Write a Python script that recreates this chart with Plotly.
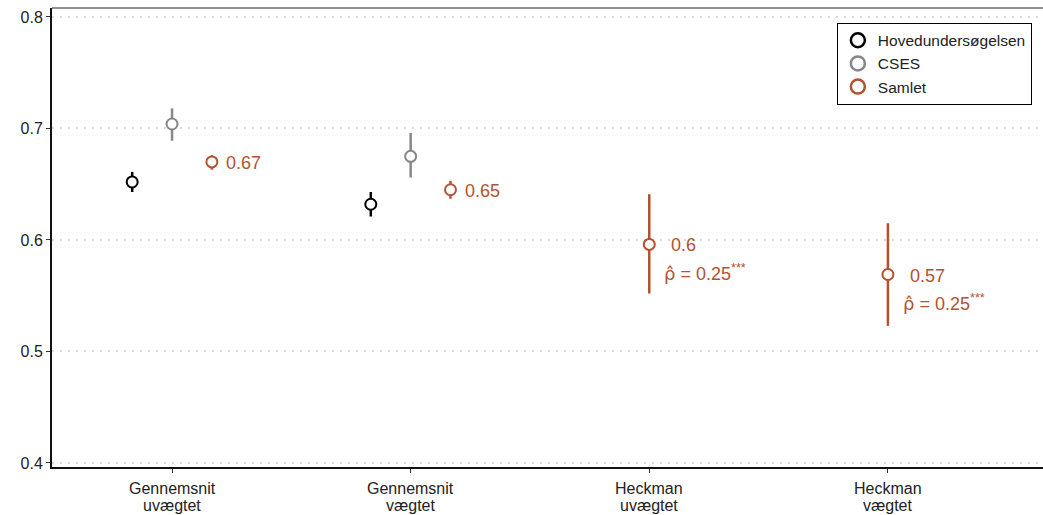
import plotly.graph_objects as go

categories = ["Gennemsnit<br>uvægtet", "Gennemsnit<br>vægtet", "Heckman<br>uvægtet", "Heckman<br>vægtet"]
series_names = ["Hovedundersøgelsen", "CSES", "Samlet"]

hoved_est = [0.652, 0.632, None, None]
hoved_lo = [0.643, 0.621, None, None]
hoved_hi = [0.661, 0.643, None, None]

cses_est = [0.704, 0.675, None, None]
cses_lo = [0.689, 0.656, None, None]
cses_hi = [0.718, 0.696, None, None]

samlet_est = [0.670, 0.645, 0.596, 0.569]
samlet_lo = [0.663, 0.637, 0.552, 0.523]
samlet_hi = [0.676, 0.653, 0.641, 0.615]

value_labels = ["0.67", "0.65", "0.6", "0.57"]
rho_labels = ["", "", "0.25", "0.25"]
rho_stars = ["", "", "***", "***"]

FONT = "Liberation Sans, Arial, Helvetica"
colors = {"Hovedundersøgelsen": "#000000", "CSES": "#878787", "Samlet": "#b3522f"}
data = {
    "Hovedundersøgelsen": (hoved_est, hoved_lo, hoved_hi),
    "CSES": (cses_est, cses_lo, cses_hi),
    "Samlet": (samlet_est, samlet_lo, samlet_hi),
}

dodge = 0.167
positions = {}
for i in range(len(categories)):
    present = [s for s in series_names if data[s][0][i] is not None]
    n = len(present)
    for k, s in enumerate(present):
        positions[(s, i)] = (i + 1) + (k - (n - 1) / 2) * dodge

fig = go.Figure()
for s in series_names:
    est, lo, hi = data[s]
    xs, ys, ep, em = [], [], [], []
    for i in range(len(categories)):
        if est[i] is None:
            continue
        xs.append(positions[(s, i)])
        ys.append(est[i])
        ep.append(hi[i] - est[i])
        em.append(est[i] - lo[i])
    fig.add_trace(go.Scatter(
        x=xs, y=ys, mode="markers", name=s, showlegend=False,
        marker=dict(symbol="circle", size=11, color="white",
                    line=dict(color=colors[s], width=2)),
        error_y=dict(type="data", symmetric=False, array=ep, arrayminus=em,
                     color=colors[s], thickness=2.5, width=0),
    ))
# legend entries (bigger symbols, as in the reference key)
for s in series_names:
    fig.add_trace(go.Scatter(
        x=[None], y=[None], mode="markers", name=s, showlegend=True,
        marker=dict(symbol="circle", size=14, color="white",
                    line=dict(color=colors[s], width=2.5)),
    ))

orange = colors["Samlet"]
for i in range(len(categories)):
    xpos = positions[("Samlet", i)]
    has_rho = rho_labels[i] != ""
    fig.add_annotation(x=xpos, y=samlet_est[i], text=value_labels[i], showarrow=False,
                       xanchor="left", yanchor="middle", xshift=(20 if has_rho else 12),
                       yshift=-1, font=dict(size=18, color=orange, family=FONT))
    if has_rho:
        fig.add_annotation(x=xpos, y=samlet_est[i],
                           text="<span style='font-family:DejaVu Sans'>ρ\u0302</span> = "
                                + rho_labels[i] + "<sup>" + rho_stars[i] + "</sup>",
                           showarrow=False, xanchor="left", yanchor="middle", xshift=13, yshift=-28,
                           font=dict(size=18, color=orange, family=FONT))

# x tick labels as two tightly spaced lines
for i, cat in enumerate(categories):
    for j, line in enumerate(cat.split("<br>")):
        fig.add_annotation(x=i + 1, y=0, xref="x", yref="paper", text=line, showarrow=False,
                           xanchor="center", yanchor="middle", yshift=-21 - 17 * j,
                           font=dict(size=16, color="#222222", family=FONT))

fig.add_shape(type="line", xref="paper", yref="paper", x0=0, x1=1, y0=1, y1=1,
              line=dict(color="#222222", width=1))

fig.update_layout(
    width=1043, height=515,
    margin=dict(l=52, r=0, t=8, b=48),
    paper_bgcolor="white", plot_bgcolor="white",
    font=dict(family=FONT, color="#333333"),
    showlegend=True,
    legend=dict(x=0.792, y=0.968, xanchor="left", yanchor="top",
                bordercolor="#000000", borderwidth=1, bgcolor="white",
                font=dict(size=15.5, color="#222222"), tracegroupgap=0,
                itemsizing="trace"),
    xaxis=dict(range=[0.497, 4.65], tickmode="array", tickvals=[1, 2, 3, 4],
               showticklabels=False, showgrid=False, zeroline=False, automargin=False,
               showline=True, linecolor="#111111", linewidth=2,
               ticks="outside", ticklen=4, tickcolor="#333333"),
    yaxis=dict(range=[0.3964, 0.808], tickvals=[0.4, 0.5, 0.6, 0.7, 0.8],
               ticktext=["0.4", "0.5", "0.6", "0.7", "0.8"], automargin=False,
               showgrid=True, gridcolor="#d9d9d9", griddash="2px,6px", gridwidth=1.5,
               zeroline=False, showline=True, linecolor="#111111", linewidth=2,
               ticks="outside", ticklen=4, tickcolor="#333333",
               tickfont=dict(size=16, color="#222222")),
)

fig.write_html("out.html", config={"displayModeBar": False},
               post_script="document.body.style.margin='0';document.body.style.overflow='hidden';")
